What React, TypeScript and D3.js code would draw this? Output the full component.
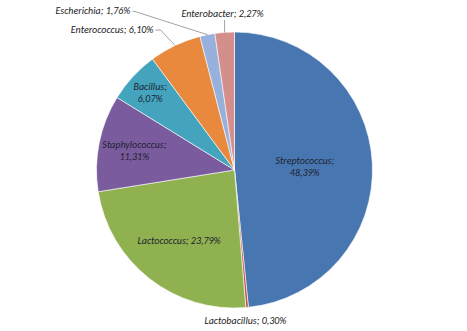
import React from "react";
import * as d3 from "d3";

const categories = ["Streptococcus", "Lactobacillus", "Lactococcus", "Staphylococcus", "Bacillus", "Enterococcus", "Escherichia", "Enterobacter"];
const values = [48.39, 0.30, 23.79, 11.31, 6.07, 6.10, 1.76, 2.27];
const valueLabels = ["48,39%", "0,30%", "23,79%", "11,31%", "6,07%", "6,10%", "1,76%", "2,27%"];
const colors = ["#4876b0", "#c0504d", "#90b150", "#7a5b9e", "#44a4be", "#e9893e", "#97b1dc", "#d48f8d"];

// label layout: mode inside (radius ratio) or outside (offset from center)
const labelLayout = [
  { mode: "in", ratio: 0.51, twoLines: true },
  { mode: "below", dx: 11, dy: 154 },
  { mode: "in", ratio: 0.65, twoLines: false },
  { mode: "in", ratio: 0.74, twoLines: true },
  { mode: "in", ratio: 0.83, twoLines: true },
  { mode: "out", tx: -81, ty: -137, knee: [-74, -140] },
  { mode: "out", tx: -104, ty: -156, knee: [-98, -158] },
  { mode: "out", tx: -12, ty: -153, knee: [-10, -150] },
];

export default function App() {
  const W = 467, H = 331;
  const cx = 234.5, cy = 170, R = 138;
  const pie = d3.pie<number>().sort(null).value((d) => d)(values);
  const arc = d3.arc<d3.PieArcDatum<number>>().innerRadius(0).outerRadius(R);
  const font = "Carlito, Lato, 'Liberation Sans', sans-serif";
  const fs = 10;
  return (
    <svg width={W} height={H} style={{ position: "absolute", left: 0, top: 0, background: "#fff" }}>
      <g transform={`translate(${cx},${cy})`}>
        {pie.map((p, i) => (
          <path key={i} d={arc(p) || ""} fill={colors[i]} stroke="#ffffff" strokeWidth={0.6} />
        ))}
        {pie.map((p, i) => {
          const L: any = labelLayout[i];
          const mid = (p.startAngle + p.endAngle) / 2;
          const name = categories[i] + ";";
          if (L.mode === "in") {
            const r = R * L.ratio;
            const x = r * Math.sin(mid), y = -r * Math.cos(mid);
            return L.twoLines ? (
              <text key={i} x={x} y={y} textAnchor="middle" fontFamily={font} fontStyle="italic" fontSize={fs} fill="#1e2430">
                <tspan x={x} dy={-2}>{name}</tspan>
                <tspan x={x} dy={12}>{valueLabels[i]}</tspan>
              </text>
            ) : (
              <text key={i} x={x} y={y + 3} textAnchor="middle" fontFamily={font} fontStyle="italic" fontSize={fs} fill="#1e2430">
                {name} {valueLabels[i]}
              </text>
            );
          }
          if (L.mode === "below") {
            return (
              <text key={i} x={L.dx} y={L.dy} textAnchor="middle" fontFamily={font} fontStyle="italic" fontSize={fs} fill="#222">
                {name} {valueLabels[i]}
              </text>
            );
          }
          const ex = R * Math.sin(mid), ey = -R * Math.cos(mid);
          const isTop = i === 7;
          return (
            <g key={i}>
              <polyline
                points={isTop ? `${L.knee[0]},${L.knee[1]} ${ex},${ey}` : `${L.tx + 2},${L.ty - 3} ${L.knee[0]},${L.knee[1]} ${ex},${ey}`}
                fill="none" stroke="#8a8a8a" strokeWidth={0.8} />
              <text x={L.tx} y={L.ty} textAnchor={isTop ? "middle" : "end"} fontFamily={font} fontStyle="italic" fontSize={fs} fill="#222">
                {name} {valueLabels[i]}
              </text>
            </g>
          );
        })}
      </g>
    </svg>
  );
}
